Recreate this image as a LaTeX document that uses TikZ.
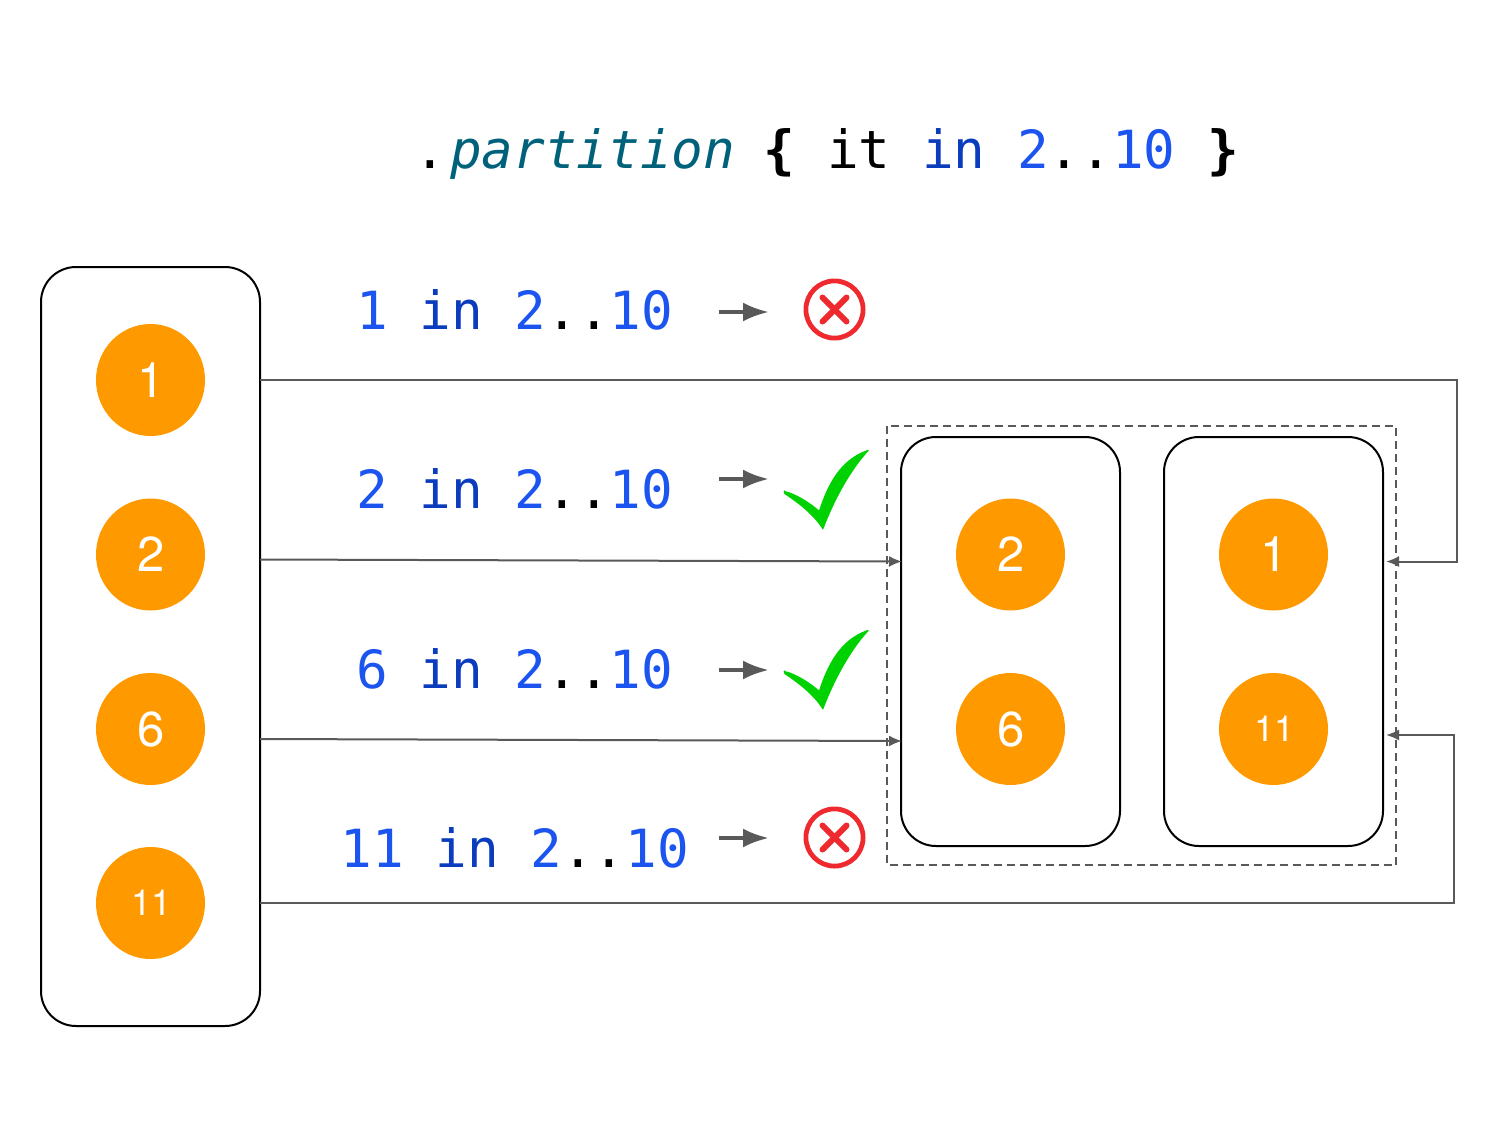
\documentclass[tikz,border=0pt]{standalone}
\usepackage{fontspec}
\setmainfont{TeX Gyre Heros}
\newfontfamily\codefont{DejaVu Sans Mono}
\usetikzlibrary{shapes.geometric,arrows.meta}
\definecolor{orangeC}{HTML}{FF9900}
\definecolor{lineC}{HTML}{595959}
\definecolor{numC}{HTML}{1C54F0}
\definecolor{kwC}{HTML}{0B3CBE}
\definecolor{fnC}{HTML}{00627A}
\definecolor{redC}{HTML}{EE2A2E}
\definecolor{greenC}{HTML}{00D100}
\newcommand{\nm}[1]{\textcolor{numC}{#1}}
\newcommand{\kw}[1]{\textcolor{kwC}{#1}}
\newcommand{\rng}{\kw{in} \nm{2}..\nm{10}}
\newcommand{\dg}[1]{\hspace*{1pt}\raisebox{-0.5pt}{#1}}
\tikzset{
  x=0.5pt,y=-0.5pt,
  ball/.style={ellipse,fill=orangeC,draw=none,minimum width=54.5pt,minimum height=56pt,inner sep=0pt,text=white,font=\fontsize{24.5}{26}\selectfont},
  smallball/.style={ball,font=\fontsize{18}{18}\selectfont},
  listbox/.style={draw=black,line width=1pt,rounded corners=17.5pt,inner sep=0pt,minimum width=109.5pt},
  codetxt/.style={anchor=base west,inner sep=0pt,font=\codefont\fontsize{26.3}{26}\selectfont},
  link/.style={draw=lineC,line width=1pt,-{Latex[length=6.5pt,width=5.5pt]}},
  pointer/.style={draw=lineC,line width=2pt,-{Latex[length=13pt,width=9.5pt]}},
  crossring/.style={circle,draw=redC,line width=2.4pt,minimum size=28.6pt,inner sep=0pt},
  crossbar/.style={draw=redC,line width=3pt,line cap=round},
  tick/.pic={\fill[greenC,rounded corners=0.3pt] (-35,11) .. controls (-25,13) and (-10,22) .. (-0.5,30.5) .. controls (8,5) and (20,-20) .. (48,-30) .. controls (50,-30) and (49,-29) .. (48,-28) .. controls (30,-8) and (14,22) .. (3.5,50) .. controls (-5,36) and (-20,24) .. (-35,14) .. controls (-36,12) and (-36,11) .. (-35,11) -- cycle;}
}
\begin{document}
\begin{tikzpicture}
\useasboundingbox (0,0) rectangle (1500,1125);
% title
\node[codetxt] (title) at (414,168.5) {.\kern2pt\textcolor{fnC}{\itshape partition}\kern-1.5pt{} \textbf{\{} it \rng{} \textbf{\}}};
% source list
\node[listbox,minimum height=379.5pt] (src) at (150.5,646.5) {};
\node[ball] (a1) at (150.5,380) {\dg{1}};
\node[ball] (a2) at (150.5,554.5) {\dg{2}};
\node[ball] (a6) at (150.5,729) {\dg{6}};
\node[smallball] (a11) at (150.5,903) {\hspace*{1pt}11};
% result
\draw[draw=lineC,line width=1pt,dash pattern=on 4pt off 2.5pt] (887,425.5) rectangle (1396,865);
\node[listbox,minimum height=204.5pt] (left) at (1010.5,641.5) {};
\node[listbox,minimum height=204.5pt] (right) at (1273.5,641.5) {};
\node[ball] (b2) at (1010.5,554.5) {\dg{2}};
\node[ball] (b6) at (1010.5,729) {\dg{6}};
\node[ball] (c1) at (1273.5,554.5) {\dg{1}};
\node[smallball] (c11) at (1273.5,729) {\hspace*{1pt}11};
% row labels
\node[codetxt] (r1) at (356,329.5) {\nm{1} \rng};
\node[codetxt] (r2) at (356,508.5) {\nm{2} \rng};
\node[codetxt] (r3) at (356,688.5) {\nm{6} \rng};
\node[codetxt] (r4) at (340,867.5) {\nm{11} \rng};
% pointers
\foreach \n/\yy in {1/312,2/479,3/670,4/838}{
  \coordinate (ps\n) at (719,\yy);
  \coordinate (pe\n) at (769,\yy);
  \draw[pointer] (ps\n) -- (pe\n);
}
% marks
\node[crossring] (x1) at (834.5,309.5) {};
\node[crossring] (x2) at (834.5,837.5) {};
\foreach \m in {x1,x2}{
  \draw[crossbar] ([shift={(-12,-12)}]\m.center) -- ([shift={(12,12)}]\m.center);
  \draw[crossbar] ([shift={(-12,12)}]\m.center) -- ([shift={(12,-12)}]\m.center);
}
\pic at (819.5,480) {tick};
\pic at (819.5,660) {tick};
% connectors
\coordinate (s1) at (260,380);
\coordinate (s2) at (260,559.5);
\coordinate (s6) at (260,739);
\coordinate (s11) at (260,903);
\coordinate (t2) at (902,561.5);
\coordinate (t6) at (902,741);
\coordinate (t1) at (1386,561.5);
\coordinate (t11) at (1386,735);
\coordinate (k1a) at (1457,380);
\coordinate (k1b) at (1457,561.5);
\coordinate (k2a) at (1454,903);
\coordinate (k2b) at (1454,735);
\draw[link] (s1) -- (k1a) -- (k1b) -- (t1);
\draw[link] (s2) -- (t2);
\draw[link] (s6) -- (t6);
\draw[link] (s11) -- (k2a) -- (k2b) -- (t11);
\end{tikzpicture}
\end{document}
